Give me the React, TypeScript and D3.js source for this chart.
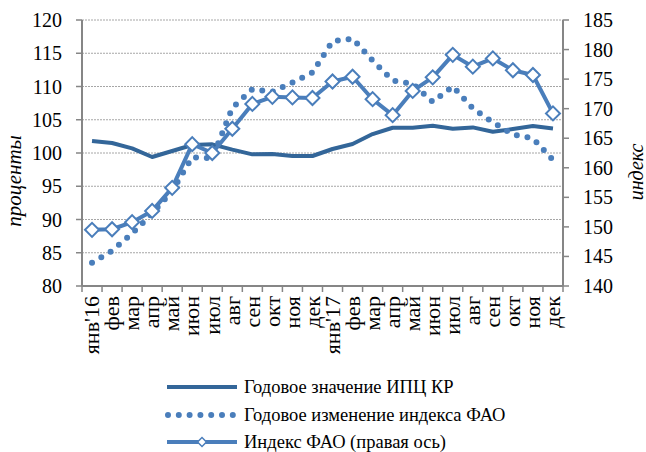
import React, { useEffect, useRef } from "react";
import * as d3 from "d3";

// months, two years
const months = ["янв'16", "фев", "мар", "апр", "май", "июн", "июл", "авг", "сен", "окт", "ноя", "дек",
  "янв'17", "фев", "мар", "апр", "май", "июн", "июл", "авг", "сен", "окт", "ноя", "дек"];

// Годовое значение ИПЦ КР (left axis)
const cpiValues = [101.8, 101.5, 100.7, 99.4, 100.3, 101.2, 101.3, 100.5, 99.8, 99.85, 99.55, 99.55,
  100.6, 101.35, 102.85, 103.8, 103.8, 104.1, 103.65, 103.85, 103.2, 103.6, 104.05, 103.7];

// Годовое изменение индекса ФАО (left axis)
const faoChange = [83.5, 85.3, 87.9, 90.9, 94.3, 99.35, 99.2, 106.8, 109.6, 109.2, 110.6, 112.1,
  116.8, 117.2, 113.9, 110.9, 110.4, 107.7, 110.0, 106.7, 104.6, 102.8, 102.2, 98.95];

// Индекс ФАО (right axis)
const faoIndex = [149.5, 149.6, 150.8, 152.7, 156.6, 164.0, 162.5, 166.6, 170.8, 172.0, 171.9, 171.8,
  174.6, 175.4, 171.6, 168.9, 173.0, 175.3, 179.1, 177.1, 178.5, 176.5, 175.7, 169.2];

const leftTicks = [80, 85, 90, 95, 100, 105, 110, 115, 120];
const rightTicks = [140, 145, 150, 155, 160, 165, 170, 175, 180, 185];

const legendLabels = ["Годовое значение ИПЦ КР", "Годовое изменение индекса ФАО", "Индекс ФАО (правая ось)"];

export default function App() {
  const ref = useRef<SVGSVGElement>(null);

  useEffect(() => {
    const svg = d3.select(ref.current);
    svg.selectAll("*").remove();

    const width = 646, height = 452;
    const margin = { top: 20, right: 83, bottom: 166, left: 82 };
    const axisColor = "#868686";
    const darkBlue = "#336699";
    const blue = "#4a7ebb";

    const x = d3.scaleBand<number>()
      .domain(d3.range(months.length))
      .range([margin.left, width - margin.right]);
    const cx = (i: number) => (x(i) as number) + x.bandwidth() / 2;

    const yL = d3.scaleLinear().domain([80, 120]).range([height - margin.bottom, margin.top]);
    const yR = d3.scaleLinear().domain([140, 185]).range([height - margin.bottom, margin.top]);

    const x0 = margin.left, x1 = width - margin.right;
    const yBottom = height - margin.bottom;

    // gridlines
    svg.append("g")
      .selectAll("line")
      .data(leftTicks.filter(t => t !== 80))
      .join("line")
      .attr("x1", x0).attr("x2", x1)
      .attr("y1", d => yL(d)).attr("y2", d => yL(d))
      .attr("stroke", "#a6a6a6")
      .attr("stroke-width", 1)
      .attr("stroke-dasharray", "2 1");

    // left axis
    const gl = svg.append("g");
    gl.append("line").attr("x1", x0).attr("x2", x0).attr("y1", margin.top).attr("y2", yBottom)
      .attr("stroke", axisColor).attr("stroke-width", 2);
    gl.selectAll("line.tick").data(leftTicks).join("line").attr("class", "tick")
      .attr("x1", x0 - 6).attr("x2", x0).attr("y1", d => yL(d)).attr("y2", d => yL(d))
      .attr("stroke", axisColor).attr("stroke-width", 1.5);
    gl.selectAll("text").data(leftTicks).join("text")
      .attr("x", 62).attr("y", d => yL(d)).attr("dy", "0.35em")
      .attr("text-anchor", "end")
      .attr("font-size", 20).attr("fill", "#000")
      .text(d => d);

    // right axis
    const gr = svg.append("g");
    gr.append("line").attr("x1", x1).attr("x2", x1).attr("y1", margin.top).attr("y2", yBottom)
      .attr("stroke", axisColor).attr("stroke-width", 2);
    gr.selectAll("line.tick").data(rightTicks).join("line").attr("class", "tick")
      .attr("x1", x1).attr("x2", x1 + 6).attr("y1", d => yR(d)).attr("y2", d => yR(d))
      .attr("stroke", axisColor).attr("stroke-width", 1.5);
    gr.selectAll("text").data(rightTicks).join("text")
      .attr("x", 583).attr("y", d => yR(d)).attr("dy", "0.35em")
      .attr("text-anchor", "start")
      .attr("font-size", 20).attr("fill", "#000")
      .text(d => d);

    // bottom axis
    const gb = svg.append("g");
    gb.append("line").attr("x1", x0).attr("x2", x1).attr("y1", yBottom).attr("y2", yBottom)
      .attr("stroke", axisColor).attr("stroke-width", 2);
    gb.selectAll("line.tick").data(d3.range(months.length + 1)).join("line").attr("class", "tick")
      .attr("x1", i => x0 + i * x.step()).attr("x2", i => x0 + i * x.step())
      .attr("y1", yBottom).attr("y2", yBottom + 6)
      .attr("stroke", axisColor).attr("stroke-width", 1.5);
    gb.selectAll("text").data(months).join("text")
      .attr("transform", (d, i) => `translate(${cx(i)}, ${yBottom + 10}) rotate(-90)`)
      .attr("dy", "0.33em")
      .attr("text-anchor", "end")
      .attr("font-size", 22).attr("fill", "#000")
      .text(d => d);

    // axis titles
    svg.append("text")
      .attr("transform", "translate(21, 181) rotate(-90)")
      .attr("text-anchor", "middle")
      .attr("font-size", 21).attr("font-style", "italic")
      .text("проценты");
    svg.append("text")
      .attr("transform", "translate(643, 172) rotate(-90)")
      .attr("text-anchor", "middle")
      .attr("font-size", 20).attr("font-style", "italic")
      .text("индекс");

    // lines
    const lineL = d3.line<number>().x((d, i) => cx(i)).y(d => yL(d));
    const lineR = d3.line<number>().x((d, i) => cx(i)).y(d => yR(d));

    svg.append("path").datum(cpiValues)
      .attr("d", lineL).attr("fill", "none")
      .attr("stroke", darkBlue).attr("stroke-width", 4).attr("stroke-linejoin", "round");

    svg.append("path").datum(faoChange)
      .attr("d", lineL).attr("fill", "none")
      .attr("stroke", blue).attr("stroke-width", 6)
      .attr("stroke-linecap", "round").attr("stroke-dasharray", "0 10.8");

    svg.append("path").datum(faoIndex)
      .attr("d", lineR).attr("fill", "none")
      .attr("stroke", blue).attr("stroke-width", 4).attr("stroke-linejoin", "round");

    svg.append("g").selectAll("path").data(faoIndex).join("path")
      .attr("transform", (d, i) => `translate(${cx(i)}, ${yR(d)}) rotate(45)`)
      .attr("d", d3.symbol().type(d3.symbolSquare).size(98)())
      .attr("fill", "#fff").attr("stroke", blue).attr("stroke-width", 2);

    // legend
    const legY = [387, 415, 442];
    const lg = svg.append("g");
    lg.append("line").attr("x1", 167).attr("x2", 237).attr("y1", legY[0]).attr("y2", legY[0])
      .attr("stroke", darkBlue).attr("stroke-width", 4);
    lg.append("line").attr("x1", 168).attr("x2", 237).attr("y1", legY[1]).attr("y2", legY[1])
      .attr("stroke", blue).attr("stroke-width", 6)
      .attr("stroke-linecap", "round").attr("stroke-dasharray", "0 10.8");
    lg.append("line").attr("x1", 167).attr("x2", 237).attr("y1", legY[2]).attr("y2", legY[2])
      .attr("stroke", blue).attr("stroke-width", 4);
    lg.append("path")
      .attr("transform", `translate(202, ${legY[2]}) rotate(45)`)
      .attr("d", d3.symbol().type(d3.symbolSquare).size(40)())
      .attr("fill", "#fff").attr("stroke", blue).attr("stroke-width", 1.5);
    lg.selectAll("text").data(legendLabels).join("text")
      .attr("x", 244).attr("y", (d, i) => legY[i]).attr("dy", "0.35em")
      .attr("font-size", 18.5).attr("fill", "#000")
      .text(d => d);
  }, []);

  return (
    <svg ref={ref} width={646} height={452}
      style={{ position: "absolute", left: 0, top: 0, background: "#fff", fontFamily: '"Liberation Serif", "Times New Roman", serif' }} />
  );
}
